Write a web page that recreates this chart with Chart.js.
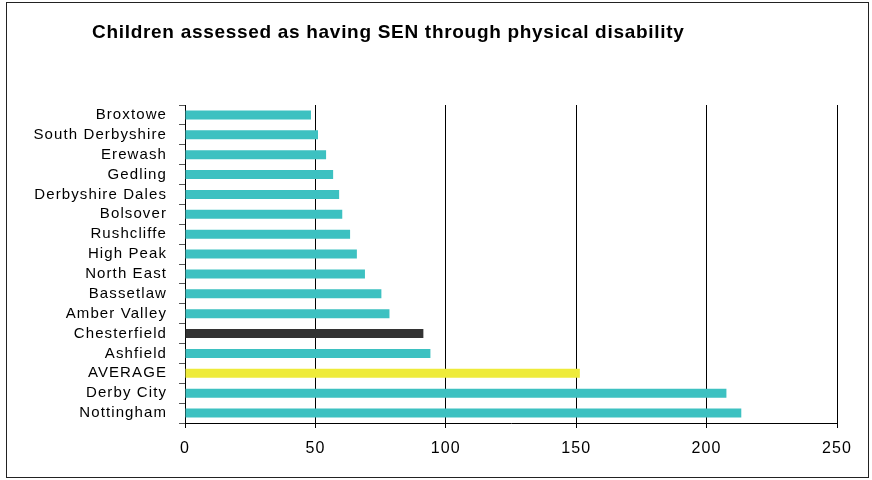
<!DOCTYPE html>
<html>
<head>
<meta charset="utf-8">
<script src="https://cdn.jsdelivr.net/npm/chart.js@4"></script>
<style>
  html, body { margin: 0; padding: 0; background: #fff; }
  #c { display: block; }
</style>
</head>
<body>
<canvas id="c" width="872" height="480"></canvas>
<script>
const titleText = "Children assessed as having SEN through physical disability";
const categories = ["Broxtowe", "South Derbyshire", "Erewash", "Gedling", "Derbyshire Dales",
  "Bolsover", "Rushcliffe", "High Peak", "North East", "Bassetlaw", "Amber Valley",
  "Chesterfield", "Ashfield", "AVERAGE", "Derby City", "Nottingham"];
const values = [48.3, 51, 54.1, 56.8, 59.1, 60.3, 63.3, 65.9, 69, 75.3, 78.4, 91.4, 94.1, 151.4, 207.6, 213.3];
const highlight = { "Chesterfield": "#333333", "AVERAGE": "#EEEB3A" };
const baseColor = "#3DC1C1";
const xTicks = [0, 50, 100, 150, 200, 250];

const FONT = "'Liberation Sans', Arial, sans-serif";

const spacingPlugin = {
  id: 'spacing',
  beforeUpdate(chart) { chart.ctx.letterSpacing = '1.1px'; },
  beforeLayout(chart) { chart.ctx.letterSpacing = '1.1px'; },
  beforeDraw(chart) { chart.ctx.letterSpacing = '1.1px'; }
};

const frameTitlePlugin = {
  id: 'frameTitle',
  afterDraw(chart) {
    const ctx = chart.ctx;
    ctx.save();
    ctx.letterSpacing = '0.7px';
    ctx.fillStyle = '#000';
    ctx.font = "bold 19px " + FONT;
    ctx.textAlign = 'left';
    ctx.textBaseline = 'alphabetic';
    ctx.fillText(titleText, 92, 38);
    ctx.strokeStyle = '#222';
    ctx.lineWidth = 1;
    ctx.strokeRect(6.5, 2.5, 862, 475);
    ctx.restore();
  }
};

new Chart(document.getElementById('c'), {
  type: 'bar',
  data: {
    labels: categories,
    datasets: [{
      data: values,
      backgroundColor: categories.map(c => highlight[c] || baseColor),
      borderWidth: 0,
      barPercentage: 0.45,
      categoryPercentage: 1.0
    }]
  },
  plugins: [spacingPlugin, frameTitlePlugin],
  options: {
    indexAxis: 'y',
    responsive: false,
    animation: false,
    devicePixelRatio: 1,
    layout: { padding: { left: 0, right: 35, top: 105, bottom: 0 } },
    plugins: {
      legend: { display: false },
      title: { display: false },
      tooltip: { enabled: false }
    },
    scales: {
      x: {
        type: 'linear',
        min: 0,
        max: 250,
        afterBuildTicks(scale) { scale.ticks = xTicks.map(v => ({ value: v })); },
        afterFit(scale) { scale.height = 57; },
        grid: {
          color: '#000',
          lineWidth: 1,
          drawTicks: true,
          tickLength: 5,
          tickColor: '#000'
        },
        border: { display: true, color: '#000', width: 1 },
        ticks: {
          color: '#000',
          font: { family: FONT, size: 16 },
          padding: 11
        }
      },
      y: {
        afterFit(scale) { scale.width = 185; },
        grid: {
          display: true,
          drawOnChartArea: false,
          drawTicks: true,
          tickLength: 6,
          tickColor: '#555',
          offset: true
        },
        border: { display: true, color: '#000', width: 1 },
        ticks: {
          color: '#000',
          font: { family: FONT, size: 15 },
          padding: 12,
          autoSkip: false
        }
      }
    }
  }
});
</script>
</body>
</html>
